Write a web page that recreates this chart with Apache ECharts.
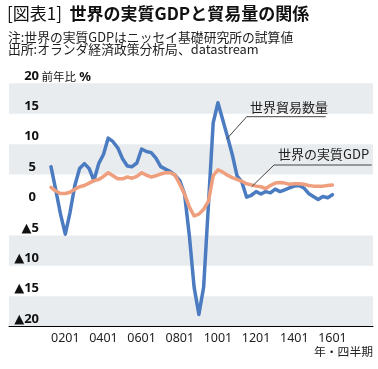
<!DOCTYPE html>
<html>
<head>
<meta charset="utf-8">
<script src="https://cdn.jsdelivr.net/npm/echarts@6/dist/echarts.min.js"></script>
<style>
html,body{margin:0;padding:0;background:#fff;}
#c{width:378px;height:369px;}
</style>
</head>
<body>
<div id="c"></div>
<script>
// quarters: YYQQ (2001Q2 .. 2016Q1)
const quarters = [
  "0102","0103","0104",
  "0201","0202","0203","0204",
  "0301","0302","0303","0304",
  "0401","0402","0403","0404",
  "0501","0502","0503","0504",
  "0601","0602","0603","0604",
  "0701","0702","0703","0704",
  "0801","0802","0803","0804",
  "0901","0902","0903","0904",
  "1001","1002","1003","1004",
  "1101","1102","1103","1104",
  "1201","1202","1203","1204",
  "1301","1302","1303","1304",
  "1401","1402","1403","1404",
  "1501","1502","1503","1504",
  "1601"
];
// 世界貿易数量 (前年比 %)
const tradeVolume = [
  6.3, 2.5, -1.5,
  -4.8, -1.2, 3.2, 6.0,
  6.8, 6.0, 4.0, 6.8,
  8.3, 11.0, 10.4, 9.4,
  7.6, 6.4, 6.3, 6.9,
  9.2, 8.8, 8.6, 7.7,
  6.3, 5.9, 5.5, 4.9,
  4.0, 1.8, -5.0, -13.5,
  -18.0, -13.5, 0.0, 13.5,
  16.8, 14.0, 11.2, 8.3,
  4.8, 3.8, 1.3, 1.6,
  2.2, 1.8, 2.2, 2.0,
  2.6, 2.2, 2.5, 2.8,
  3.1, 3.2, 2.8, 1.9,
  1.4, 0.9, 1.4, 1.2,
  1.7
];
// 世界の実質GDP (前年比 %)
const worldGdp = [
  2.9, 2.3, 1.9,
  1.9, 2.1, 2.6, 3.0,
  3.2, 3.6, 4.0, 4.2,
  4.7, 5.3, 4.8, 4.3,
  4.3, 4.6, 4.4, 4.7,
  5.3, 4.9, 4.6, 4.8,
  5.1, 5.3, 5.3, 4.9,
  3.4, 1.8, -0.3, -1.8,
  -1.5, -0.7, 0.6, 4.8,
  5.8, 5.4, 4.9, 4.5,
  4.2, 3.9, 3.5, 3.3,
  3.1, 3.0, 2.7, 3.2,
  3.6, 3.7, 3.6, 3.4,
  3.5, 3.5, 3.4, 3.2,
  3.1, 3.1, 3.1, 3.2,
  3.3
];
const xTickLabels = ["0201","0401","0601","0801","1001","1201","1401","1601"];
const yTickValues = [-20, -15, -10, -5, 0, 5, 10, 15, 20];
const yBands = [[15, 20], [5, 10], [-10, -5], [-20, -15]];

const CJK = '"Noto Sans CJK JP", "Noto Sans", sans-serif';
const NUM = '"Noto Sans", "DejaVu Sans", sans-serif';

const chart = echarts.init(document.getElementById('c'), null, { renderer: 'canvas' });
const toPairs = arr => arr.map((v, i) => [i, v]);

const option = {
  animation: false,
  backgroundColor: '#ffffff',
  grid: { left: 9, right: 5, top: 83.3, bottom: 42.3 },
  xAxis: [{
    type: 'value', min: -8.8, max: 67.5,
    axisLine: { show: false }, axisTick: { show: false }, splitLine: { show: false },
    axisLabel: {
      customValues: xTickLabels.map(l => quarters.indexOf(l)),
      formatter: v => quarters[Math.round(v)] || '',
      fontFamily: NUM, fontSize: 12.5, color: '#222', margin: 5, hideOverlap: false
    }
  }, {
    type: 'value', min: -8.8, max: 67.5, gridIndex: 0, position: 'bottom', z: 6,
    axisLine: { show: true, onZero: true, lineStyle: { color: '#000', width: 1 } },
    axisTick: { show: false }, axisLabel: { show: false }, splitLine: { show: false }
  }],
  yAxis: {
    type: 'value', min: -20, max: 20, interval: 5, z: 20,
    axisLine: { show: false }, axisTick: { show: false }, splitLine: { show: false },
    axisLabel: {
      customValues: yTickValues, interval: 0,
      inside: true, margin: 30, align: 'right', verticalAlign: 'bottom',
      hideOverlap: false, showMinLabel: true, showMaxLabel: true,
      formatter: v => {
        if (v < 0) return '{n|▲' + (-v) + '}';
        if (v < 10) return '{s|' + v + '}';
        return '{n|' + v + '}';
      },
      rich: {
        n: { fontFamily: NUM, fontWeight: 'bold', fontSize: 13, lineHeight: 13, color: '#111', padding: [0, 0, 2, 0] },
        s: { fontFamily: NUM, fontWeight: 'bold', fontSize: 13, lineHeight: 13, color: '#111', padding: [0, 3, 2, 0] }
      }
    }
  },
  series: [{
    name: '世界貿易数量', type: 'line', data: toPairs(tradeVolume),
    symbol: 'none', smooth: false, z: 3,
    lineStyle: { color: '#4b7cc1', width: 3.5, join: 'round', cap: 'round' },
    markArea: {
      silent: true, itemStyle: { color: '#e9ecef' },
      data: yBands.map(b => [{ yAxis: b[0] }, { yAxis: b[1] }])
    }
  }, {
    name: '世界の実質GDP', type: 'line', data: toPairs(worldGdp),
    symbol: 'none', smooth: false, z: 4,
    lineStyle: { color: '#ef9f7d', width: 3.5, join: 'round', cap: 'round' }
  }],
  graphic: [
    { type: 'text', x: 7, y: 13.5, style: { text: '[図表1]', font: '17px ' + CJK, fill: '#111', verticalAlign: 'middle' } },
    { type: 'text', x: 69.5, y: 13.5, style: { text: '世界の実質GDPと貿易量の関係', font: 'bold 17px ' + CJK, fill: '#111', verticalAlign: 'middle' } },
    { type: 'text', x: 8, y: 37, style: { text: '注:世界の実質GDPはニッセイ基礎研究所の試算値', font: '12.8px ' + CJK, fill: '#222', verticalAlign: 'middle' } },
    { type: 'text', x: 8, y: 49, style: { text: '出所:オランダ経済政策分析局、datastream', font: '12.8px ' + CJK, fill: '#222', verticalAlign: 'middle' } },
    { type: 'text', x: 41.5, y: 77, style: {
        text: '{a|前年比} {b|%}', verticalAlign: 'middle',
        rich: { a: { font: '11.5px ' + CJK, fill: '#111' }, b: { font: 'bold 13px ' + NUM, fill: '#111' } } } },
    { type: 'text', x: 373, y: 352, style: { text: '年・四半期', font: '11.8px ' + CJK, fill: '#222', align: 'right', verticalAlign: 'middle' } },
    { type: 'polyline', shape: { points: [[226.7, 139], [246.7, 116.7], [325.7, 116.7]] }, style: { stroke: '#444', lineWidth: 1, fill: null }, z: 10 },
    { type: 'text', x: 250, y: 107.5, style: { text: '世界貿易数量', font: '13px ' + CJK, fill: '#222', verticalAlign: 'middle' }, z: 10 },
    { type: 'polyline', shape: { points: [[251.7, 186.7], [274, 165], [371.7, 165]] }, style: { stroke: '#444', lineWidth: 1, fill: null }, z: 10 },
    { type: 'text', x: 278, y: 154, style: { text: '世界の実質GDP', font: '13px ' + CJK, fill: '#222', verticalAlign: 'middle' }, z: 10 }
  ]
};
chart.setOption(option);
</script>
</body>
</html>
